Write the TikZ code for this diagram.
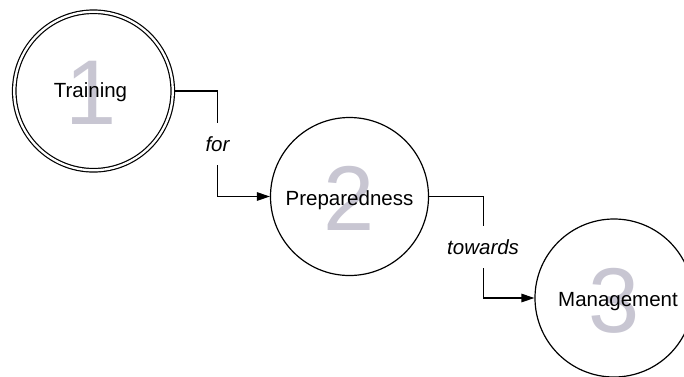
\documentclass[tikz,border=0pt]{standalone}
\usepackage{fontspec}
\setmainfont{Liberation Sans}
\usetikzlibrary{arrows.meta}
\definecolor{digitgray}{RGB}{200,198,210}
\begin{document}
\begin{tikzpicture}[x=1pt,y=-1pt,
  stage/.style={circle, draw=black, line width=1.2pt, minimum size=158pt, inner sep=0pt},
  firststage/.style={stage, double=white, double distance=2.3pt, outer sep=1.75pt, minimum size=158.5pt},
  numeral/.style={anchor=base, inner sep=0pt, text=digitgray, font=\fontsize{92}{92}\selectfont},
  stagetext/.style={anchor=base, inner sep=0pt, font=\fontsize{20.5}{24}\selectfont},
  link/.style={line width=1.2pt, -{Triangle[length=13pt,width=8.5pt]}},
  linkword/.style={fill=white, inner xsep=3pt, minimum height=42pt, font=\itshape\fontsize{20.5}{24}\selectfont}
]
\useasboundingbox (0,0) rectangle (684,376);

% the three stages
\node[firststage] (c1) at (93.5,91) {};
\node[stage] (c2) at (349.5,196.5) {};
\node[stage] (c3) at (614,298) {};

% step numerals behind the stage names
\node[numeral] (n1) at (91,124.5) {1};
\node[numeral] (n2) at (349.5,230) {2};
\node[numeral] (n3) at (614,332) {3};

% stage names
\node[stagetext] (t1) at (90.5,97.5) {Training};
\node[stagetext] (t2) at (349.5,205) {Preparedness};
\node[stagetext] (t3) at (618,306) {Management};

% elbow connectors with their labels
\draw[link] (c1.east) -- ++(43,0) |- node[linkword, pos=0.25] (w1) {for} (c2.west);
\draw[link] (c2.east) -- ++(54,0) |- node[linkword, pos=0.25] (w2) {towards} (c3.west);
\end{tikzpicture}
\end{document}
